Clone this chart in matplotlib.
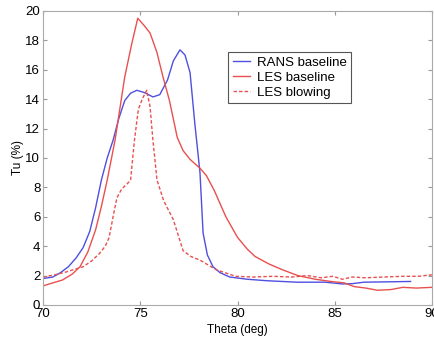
import numpy as np
import matplotlib.pyplot as plt

plt.rcParams['font.family'] = ['Liberation Sans', 'DejaVu Sans']

# RANS baseline
rans_x = [70.0, 70.5, 70.9, 71.3, 71.7, 72.06, 72.4, 72.7, 73.0, 73.3, 73.6, 73.9, 74.2, 74.5, 74.82,
          75.2, 75.65, 76.0, 76.4, 76.7, 77.04, 77.3, 77.56, 77.8, 78.07, 78.23, 78.45, 78.74,
          79.1, 79.6, 80.5, 81.5, 83.06, 84.5, 85.4, 85.9, 86.5, 88.0, 88.9]
rans_y = [1.8, 1.9, 2.2, 2.6, 3.2, 3.9, 5.0, 6.6, 8.5, 10.0, 11.2, 12.7, 13.9, 14.4, 14.6,
          14.45, 14.15, 14.3, 15.3, 16.6, 17.35, 17.0, 15.8, 12.4, 9.0, 4.9, 3.4, 2.6,
          2.2, 1.9, 1.75, 1.65, 1.55, 1.55, 1.43, 1.45, 1.55, 1.58, 1.6]

# LES baseline
les_x = [70.0, 71.0, 71.5, 71.9, 72.3, 72.7, 73.0, 73.3, 73.7, 74.2, 74.55, 74.87, 75.2, 75.5, 75.85,
         76.17, 76.5, 76.9, 77.2, 77.56, 78.07, 78.4, 78.8, 79.4, 80.0, 80.5, 80.9, 81.6, 82.3,
         83.1, 84.0, 84.8, 85.5, 86.0, 86.6, 87.2, 87.9, 88.5, 89.2, 90.0]
les_y = [1.3, 1.7, 2.1, 2.6, 3.6, 5.1, 6.7, 8.5, 11.2, 15.5, 17.7, 19.5, 19.0, 18.5, 17.2,
         15.5, 13.9, 11.4, 10.5, 9.9, 9.3, 8.8, 7.8, 6.0, 4.6, 3.8, 3.3, 2.8, 2.4,
         2.0, 1.75, 1.6, 1.5, 1.25, 1.15, 1.0, 1.05, 1.2, 1.15, 1.2]

# LES blowing
blow_x = [70.0, 70.6, 71.2, 72.06, 72.5, 72.9, 73.2, 73.4, 73.6, 73.8, 74.05, 74.3, 74.5, 74.7,
          74.9, 75.1, 75.33, 75.5, 75.65, 75.86, 76.2, 76.7, 77.2, 77.6, 78.07, 78.9, 79.9,
          80.8, 81.8, 82.8, 83.6, 84.3, 84.9, 85.4, 85.9, 86.6, 87.5, 88.5, 89.3, 90.0]
blow_y = [1.9, 2.05, 2.25, 2.6, 3.0, 3.5, 4.0, 4.6, 6.0, 7.3, 7.9, 8.2, 8.5, 11.2,
          13.3, 14.0, 14.6, 13.5, 11.2, 8.5, 7.1, 5.8, 3.7, 3.3, 3.05, 2.4, 1.95,
          1.9, 1.95, 1.9, 2.0, 1.85, 1.95, 1.75, 1.9, 1.85, 1.9, 1.95, 1.95, 2.05]

blue = '#4f4fe0'
red = '#e8504f'

fig = plt.figure(figsize=(4.35, 3.4), dpi=100)
ax = fig.add_axes([0.099, 0.103, 0.894, 0.865])

ax.plot(rans_x, rans_y, color=blue, lw=1.0, label='RANS baseline')
ax.plot(les_x, les_y, color=red, lw=1.0, label='LES baseline')
ax.plot(blow_x, blow_y, color=red, lw=1.0, ls='--', dashes=(2.5, 1.5), label='LES blowing')

ax.set_xlim(70, 90)
ax.set_ylim(0, 20)
ax.set_xticks([70, 75, 80, 85, 90])
ax.set_yticks(range(0, 21, 2))
ax.tick_params(direction='in', top=True, right=True, labelsize=9.5, length=3,
               color='#999999', pad=2)
for s in ax.spines.values():
    s.set_color('#aaaaaa')
ax.set_xlabel('Theta (deg)', fontsize=8.5, labelpad=3)
ax.set_ylabel('Tu (%)', fontsize=8.5, labelpad=1)

leg = ax.legend(loc='upper left', bbox_to_anchor=(0.476, 0.86), fontsize=9.5,
                fancybox=False, framealpha=1, borderpad=0.35, labelspacing=0.2,
                handlelength=1.3, handletextpad=0.5, borderaxespad=0)
leg.get_frame().set_edgecolor('#555555')
leg.get_frame().set_linewidth(0.8)

fig.savefig('out.png', dpi=100)
